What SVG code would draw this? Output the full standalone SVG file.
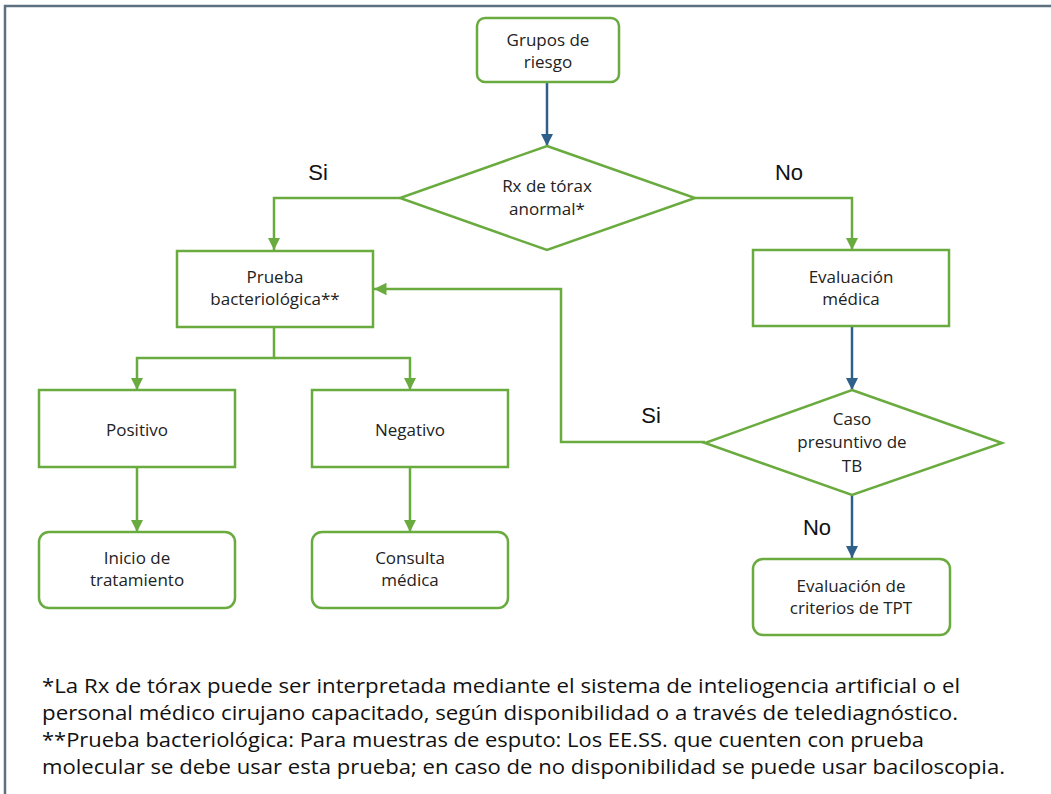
<svg xmlns="http://www.w3.org/2000/svg" width="1051" height="794" viewBox="0 0 1051 794">
<style>
.box{fill:#fff;stroke:#6aab3f;stroke-width:2.5}
.g{fill:none;stroke:#6aab3f;stroke-width:2.5}
.b{fill:none;stroke:#2f6089;stroke-width:2.5}
.t{font-family:"Open Sans","Liberation Sans",sans-serif;font-size:17px;fill:#222;text-anchor:middle}
.lbl{font-family:"Liberation Sans",Arial,sans-serif;font-size:22px;fill:#111}
.fn{font-family:"Open Sans","Liberation Sans",Arial,sans-serif;font-size:20px;fill:#111}
</style>
<defs>
<marker id="ag" viewBox="0 0 10 10" refX="10" refY="5" markerWidth="5" markerHeight="5" orient="auto" markerUnits="strokeWidth"><path d="M0,0 L10,5 L0,10 z" fill="#6aab3f"/></marker>
<marker id="ab" viewBox="0 0 10 10" refX="10" refY="5" markerWidth="5" markerHeight="5" orient="auto" markerUnits="strokeWidth"><path d="M0,0 L10,5 L0,10 z" fill="#2f6089"/></marker>
</defs>
<rect width="1051" height="794" fill="#fff"/>
<path d="M5,794 V6 H1051" fill="none" stroke="#5d7080" stroke-width="2.5"/>

<g id="connectors">
<path class="b" d="M547,82 V146" marker-end="url(#ab)"/>
<path class="g" d="M400,198 H274 V250" marker-end="url(#ag)"/>
<path class="g" d="M695,198 H852 V250" marker-end="url(#ag)"/>
<path class="b" d="M852,327 V390" marker-end="url(#ab)"/>
<path class="g" d="M705,442 H561 V289 H374" marker-end="url(#ag)"/>
<path class="g" d="M274,327 V358 H137 V390" marker-end="url(#ag)"/>
<path class="g" d="M274,358 H410 V390" marker-end="url(#ag)"/>
<path class="g" d="M137,467 V532" marker-end="url(#ag)"/>
<path class="g" d="M410,467 V532" marker-end="url(#ag)"/>
<path class="b" d="M852,495 V558" marker-end="url(#ab)"/>
<text class="lbl" x="318" y="180" text-anchor="middle">Si</text>
<text class="lbl" x="789" y="180" text-anchor="middle">No</text>
<text class="lbl" x="651" y="423" text-anchor="middle">Si</text>
<text class="lbl" x="817" y="535" text-anchor="middle">No</text>
</g>

<g id="grupos">
<rect class="box" x="477" y="18" width="142" height="64" rx="8"/>
<text class="t" x="548" y="46">Grupos de</text>
<text class="t" x="548" y="68">riesgo</text>
</g>
<g id="rx">
<polygon class="box" points="547,146 695,198 547,250 400,198"/>
<text class="t" x="547" y="192">Rx de tórax</text>
<text class="t" x="547" y="215">anormal*</text>
</g>
<g id="prueba">
<rect class="box" x="177" y="251" width="196" height="76"/>
<text class="t" x="275" y="283">Prueba</text>
<text class="t" x="275" y="305">bacteriológica**</text>
</g>
<g id="evalmed">
<rect class="box" x="753" y="250" width="196" height="76"/>
<text class="t" x="851" y="283">Evaluación</text>
<text class="t" x="851" y="305">médica</text>
</g>
<g id="positivo">
<rect class="box" x="39" y="390" width="196" height="77"/>
<text class="t" x="137" y="436">Positivo</text>
</g>
<g id="negativo">
<rect class="box" x="312" y="390" width="196" height="77"/>
<text class="t" x="410" y="436">Negativo</text>
</g>
<g id="caso">
<polygon class="box" points="852,390 1002,443 852,495 705,443"/>
<text class="t" x="852" y="425">Caso</text>
<text class="t" x="852" y="448">presuntivo de</text>
<text class="t" x="852" y="472">TB</text>
</g>
<g id="inicio">
<rect class="box" x="39" y="532" width="196" height="76" rx="10"/>
<text class="t" x="137" y="564">Inicio de</text>
<text class="t" x="137" y="586">tratamiento</text>
</g>
<g id="consulta">
<rect class="box" x="312" y="532" width="196" height="76" rx="10"/>
<text class="t" x="410" y="564">Consulta</text>
<text class="t" x="410" y="586">médica</text>
</g>
<g id="tpt">
<rect class="box" x="753" y="559" width="197" height="76" rx="10"/>
<text class="t" x="851" y="592">Evaluación de</text>
<text class="t" x="851" y="614">criterios de TPT</text>
</g>

<g id="notes">
<text class="fn" x="42" y="693" textLength="918" lengthAdjust="spacingAndGlyphs">*La Rx de tórax puede ser interpretada mediante el sistema de inteliogencia artificial o el</text>
<text class="fn" x="42" y="720" textLength="916" lengthAdjust="spacingAndGlyphs">personal médico cirujano capacitado, según disponibilidad o a través de telediagnóstico.</text>
<text class="fn" x="42" y="747" textLength="882" lengthAdjust="spacingAndGlyphs">**Prueba bacteriológica: Para muestras de esputo: Los EE.SS. que cuenten con prueba</text>
<text class="fn" x="42" y="774" textLength="963" lengthAdjust="spacingAndGlyphs">molecular se debe usar esta prueba; en caso de no disponibilidad se puede usar baciloscopia.</text>
</g>
</svg>
